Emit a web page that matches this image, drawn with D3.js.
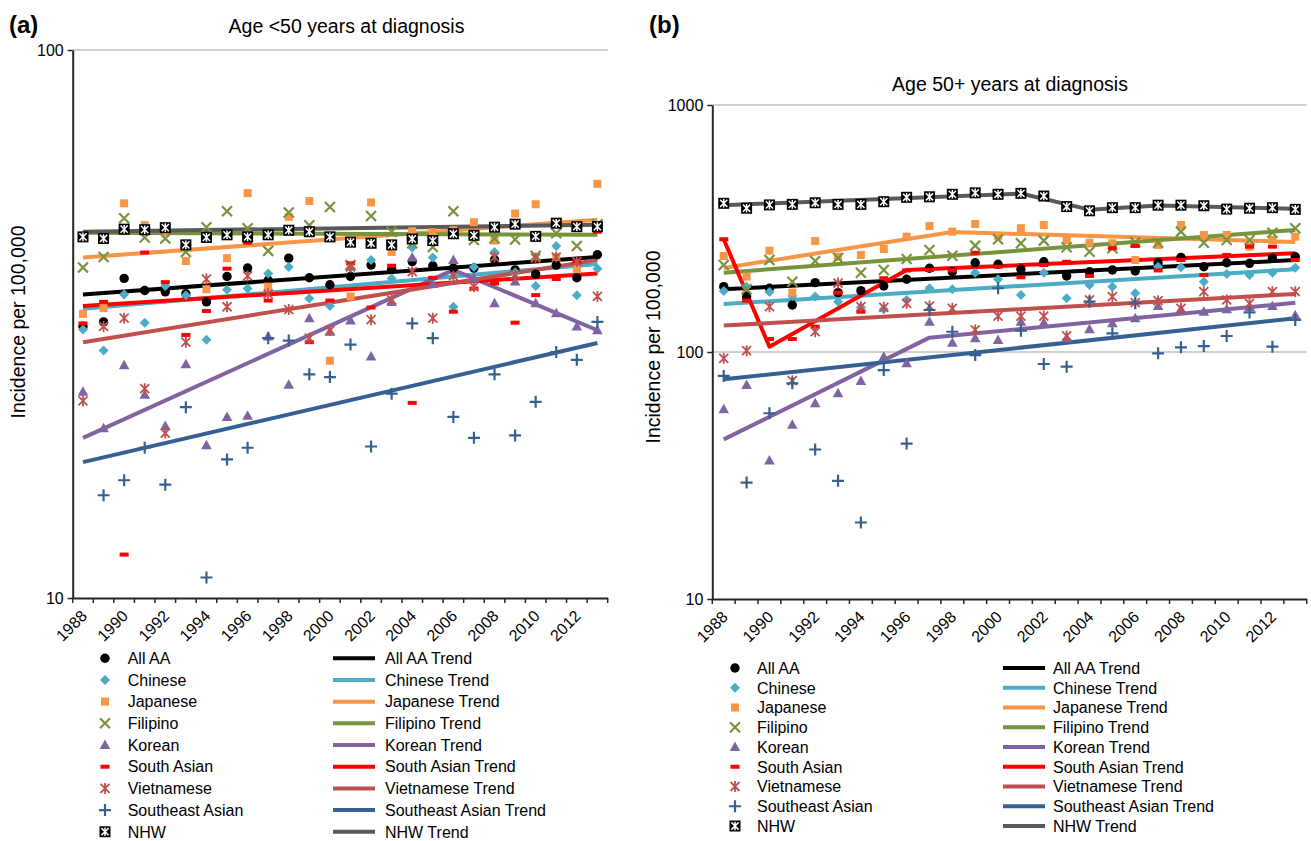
<!DOCTYPE html>
<html>
<head>
<meta charset="utf-8">
<script src="https://cdnjs.cloudflare.com/ajax/libs/d3/7.8.5/d3.min.js"></script>
<style>
body { margin: 0; background: #fff; }
text { font-family: "Liberation Sans", Arial, sans-serif; fill: #000; }
</style>
</head>
<body>
<script>
// categories
var years = [1988,1989,1990,1991,1992,1993,1994,1995,1996,1997,1998,1999,2000,
             2001,2002,2003,2004,2005,2006,2007,2008,2009,2010,2011,2012,2013];
var tickYears = [1988,1990,1992,1994,1996,1998,2000,2002,2004,2006,2008,2010,2012];
var groups = ["All AA","Chinese","Japanese","Filipino","Korean","South Asian","Vietnamese","Southeast Asian","NHW"];

// (a) age <50, incidence per 100,000
var aAllAA = [31.3,31.9,38.3,36.4,36.2,35.9,34.7,38.6,40.0,38.0,41.7,38.4,37.3,38.6,40.5,39.8,41.1,40.4,40.0,40.0,41.4,39.7,39.0,40.5,38.4,42.3];
var aChinese = [30.9,28.3,35.8,31.8,37.1,35.7,29.6,36.5,36.7,39.1,40.2,35.2,34.1,40.0,41.4,38.3,43.6,41.8,34.0,40.2,42.8,39.3,37.1,43.9,35.7,39.9];
var aJapanese = [33.0,33.8,52.5,47.9,46.5,41.2,36.6,41.7,54.8,37.0,49.6,53.0,27.1,35.5,52.7,42.8,46.7,46.5,46.9,48.5,44.9,50.3,52.3,41.9,39.8,57.0];
var aFilipino = [40.1,41.9,49.3,45.5,45.3,42.8,47.5,50.8,47.3,43.0,50.5,47.9,51.7,40.5,49.8,46.6,44.4,43.7,50.8,45.0,45.3,45.1,42.1,46.3,43.9,48.1];
var aKorean = [23.8,20.4,26.6,23.5,20.6,26.7,19.0,21.4,21.5,30.0,24.5,32.4,30.6,32.1,27.6,34.7,41.8,37.4,41.4,38.3,34.5,37.8,34.5,33.1,31.3,30.8];
var aSouthAsian = [31.7,34.7,12.0,42.7,37.7,30.2,33.4,39.9,44.5,34.9,47.5,29.3,34.9,40.8,33.9,40.4,22.7,38.4,33.3,36.7,37.5,31.8,35.7,38.2,41.0,46.6];
var aVietnamese = [22.9,31.3,32.4,24.1,20.0,29.3,38.2,34.0,38.7,35.9,33.6,29.8,30.8,40.2,32.2,35.0,39.4,32.4,38.7,37.0,41.9,38.9,41.7,41.9,41.1,35.5];
var aSoutheastAsian = [null,15.4,16.4,18.8,16.1,22.3,10.9,17.9,18.8,29.8,29.5,25.6,25.3,29.0,18.9,23.6,31.7,29.8,21.4,19.6,25.6,19.8,22.8,28.1,27.2,31.9];
var aNHW = [45.6,45.3,47.1,47.0,47.4,44.1,45.5,46.0,45.6,46.0,46.9,46.6,45.6,44.6,44.4,44.1,45.2,44.9,46.2,45.9,47.5,48.1,45.7,48.3,47.6,47.6];

// (a) trends: [year, value] at joinpoints
var aTrendAllAA = [[1988,35.8],[2013,41.9]];
var aTrendChinese = [[1988,33.7],[2013,40.7]];
var aTrendJapanese = [[1988,41.8],[2013,49.0]];
var aTrendFilipino = [[1988,46.4],[2013,46.0]];
var aTrendKorean = [[1988,19.6],[2006,39.7],[2013,30.8]];
var aTrendSouthAsian = [[1988,34.1],[2013,39.1]];
var aTrendVietnamese = [[1988,29.3],[2013,41.4]];
var aTrendSoutheastAsian = [[1988,17.7],[2013,29.2]];
var aTrendNHW = [[1988,46.6],[2013,48.0]];

// (b) age 50+
var bAllAA = [183.9,167.6,181.2,155.0,190.9,173.9,177.2,185.1,197.0,218.3,211.4,229.9,226.5,216.3,231.9,203.2,211.4,214.9,212.9,229.9,241.7,221.4,229.9,228.6,239.5,243.1];
var bChinese = [176.7,183.9,175.0,168.6,167.8,159.8,151.7,148.9,162.4,181.2,179.5,209.5,197.0,170.2,209.5,165.1,186.6,183.9,172.9,221.4,220.3,192.6,207.1,205.1,209.5,219.4];
var bJapanese = [244.7,201.9,257.1,173.9,281.4,243.1,247.0,261.2,293.1,323.8,307.1,329.9,295.0,317.0,326.9,284.2,277.1,275.6,235.7,271.3,326.9,297.8,297.8,267.0,284.2,293.1];
var bFilipino = [225.0,179.5,235.7,192.6,233.5,240.2,209.5,214.9,237.9,258.8,245.4,269.5,286.1,275.6,282.4,265.6,254.7,262.9,278.2,277.1,307.1,277.1,284.2,284.2,304.2,317.0];
var bKorean = [58.7,73.6,36.4,50.7,62.0,68.1,76.4,95.7,90.0,132.6,109.1,113.6,111.8,132.6,131.4,113.6,123.5,130.6,136.9,153.5,148.9,145.6,148.9,152.0,153.5,141.0];
var bSouthAsian = [286.1,161.4,112.9,112.9,126.6,173.9,145.6,198.9,213.9,214.9,213.9,252.3,221.4,200.7,225.0,231.9,203.2,262.9,268.7,213.9,235.7,205.1,247.0,267.0,267.0,235.7];
var bVietnamese = [94.3,101.2,152.5,76.5,120.8,190.1,152.5,151.7,157.5,153.4,150.3,122.8,139.8,139.8,139.8,116.1,162.4,167.6,158.3,161.4,150.3,175.5,162.4,157.5,175.5,175.5];
var bSoutheastAsian = [80.0,29.6,56.5,74.7,40.3,30.1,20.4,84.5,42.6,147.9,120.8,97.2,181.2,121.9,89.4,87.2,159.8,119.0,157.5,98.8,104.5,105.7,116.1,144.6,105.1,134.9];
var bNHW = [400,382,394,396,402,396,396,406,423,425,435,441,435,439,428,388,373,384,384,393,393,391,379,382,384,378];

var bTrendAllAA = [[1988,179.5],[2013,235.7]];
var bTrendChinese = [[1988,156.4],[2013,216.3]];
var bTrendJapanese = [[1988,219],[1998,306],[2013,279]];
var bTrendFilipino = [[1988,209.5],[2013,312]];
var bTrendKorean = [[1988,44.3],[1997,114.3],[2013,158.3]];
var bTrendSouthAsian = [[1988,286],[1990,105],[1996,215],[2013,251]];
var bTrendVietnamese = [[1988,127.9],[2013,171.8]];
var bTrendSoutheastAsian = [[1988,77.5],[2013,136.9]];
var bTrendNHW = [[1988,393],[2001,438],[2004,377],[2007,392],[2013,380]];

// marker style per group (same order as groups)
var colors = ["#000000","#4BACC6","#F79646","#77933C","#8064A2","#FF0000","#C0504D","#376092","#595959"];
var markers = ["circle","diamond","square","x","triangle","dash","star","plus","nhw"];

var svg = d3.select("body").append("svg")
    .attr("width", 1311)
    .attr("height", 841);

function drawMarker(g, type, color, cx, cy) {
    var m = g.append("g").attr("transform", "translate(" + cx + "," + cy + ")");
    if (type == "circle") {
        m.append("circle").attr("r", 4.7).attr("fill", color);
    } else if (type == "diamond") {
        m.append("path").attr("d", "M0,-5L5,0L0,5L-5,0Z").attr("fill", color);
    } else if (type == "square") {
        m.append("rect").attr("x", -4).attr("y", -4).attr("width", 8).attr("height", 8).attr("fill", color);
    } else if (type == "x") {
        m.append("path").attr("d", "M-5,-5L5,5M-5,5L5,-5")
            .attr("stroke", color).attr("stroke-width", 2.2).attr("fill", "none");
    } else if (type == "triangle") {
        m.append("path").attr("d", "M0,-5.5L5.3,4L-5.3,4Z").attr("fill", color);
    } else if (type == "dash") {
        m.append("rect").attr("x", -4.5).attr("y", -2).attr("width", 9).attr("height", 4).attr("fill", color);
    } else if (type == "star") {
        m.append("path").attr("d", "M-4.5,-4.5L4.5,4.5M-4.5,4.5L4.5,-4.5M0,-5.5L0,5.5")
            .attr("stroke", color).attr("stroke-width", 1.8).attr("fill", "none");
    } else if (type == "plus") {
        m.append("path").attr("d", "M-6,0L6,0M0,-6L0,6")
            .attr("stroke", color).attr("stroke-width", 2.2).attr("fill", "none");
    } else if (type == "nhw") {
        m.append("rect").attr("x", -5.5).attr("y", -5.5).attr("width", 11).attr("height", 11).attr("fill", "#000");
        m.append("path").attr("d", "M-3.6,-3.6L3.6,3.6M-3.6,3.6L3.6,-3.6M0,-4.3L0,4.3")
            .attr("stroke", "#fff").attr("stroke-width", 1.5).attr("fill", "none");
    }
}

function drawPanel(p) {
    var g = svg.append("g");

    var x = d3.scaleBand()
        .domain(years)
        .range([p.left, p.right]);
    var bw = x.bandwidth();

    var y = d3.scaleLog()
        .domain(p.yDomain)
        .range([p.bottom, p.top]);

    // gridlines
    g.selectAll("line.grid").data(p.grid).enter()
        .append("line")
        .attr("x1", p.left).attr("x2", p.right)
        .attr("y1", function(d) { return y(d); })
        .attr("y2", function(d) { return y(d); })
        .attr("stroke", "#C0C0C0")
        .attr("stroke-width", 1.3);

    // left axis
    var leftAxis = d3.axisLeft(y)
        .tickValues(p.yTicks)
        .tickSize(5)
        .tickSizeOuter(0)
        .tickPadding(4)
        .tickFormat(d3.format("d"));
    var ya = g.append("g")
        .attr("transform", "translate(" + p.left + ",0)")
        .call(leftAxis);
    ya.select(".domain").attr("stroke", "#262626").attr("stroke-width", 2);
    ya.selectAll(".tick line").attr("stroke", "#262626").attr("stroke-width", 1.5);
    ya.selectAll(".tick text")
        .attr("font-family", "Liberation Sans, Arial, sans-serif")
        .attr("font-size", "16px")
        .attr("fill", "#000");

    // bottom axis, labels every other year
    var bottomAxis = d3.axisBottom(x)
        .tickValues(tickYears)
        .tickSize(0)
        .tickSizeOuter(0);
    var xa = g.append("g")
        .attr("transform", "translate(0," + p.bottom + ")")
        .call(bottomAxis);
    xa.select(".domain").attr("stroke", "#262626").attr("stroke-width", 2);
    xa.selectAll(".tick text")
        .attr("x", 0).attr("y", 0).attr("dy", null)
        .attr("text-anchor", "end")
        .attr("transform", "translate(5,19) rotate(-45)")
        .attr("font-family", "Liberation Sans, Arial, sans-serif")
        .attr("font-size", "16px")
        .attr("fill", "#000");

    // tick marks between categories
    var edges = years.map(function(d) { return x(d); }).concat([p.right]);
    g.selectAll("line.xt").data(edges).enter()
        .append("line")
        .attr("x1", function(d) { return d; })
        .attr("x2", function(d) { return d; })
        .attr("y1", p.bottom)
        .attr("y2", p.bottom + 5)
        .attr("stroke", "#262626")
        .attr("stroke-width", 1.5);

    // trend lines
    var line = d3.line()
        .x(function(d) { return x(d[0]) + bw / 2; })
        .y(function(d) { return y(d[1]); });
    p.trends.forEach(function(t, i) {
        g.append("path")
            .attr("d", line(t))
            .attr("fill", "none")
            .attr("stroke", colors[i])
            .attr("stroke-width", 4)
            .attr("stroke-linejoin", "round");
    });

    // points
    p.series.forEach(function(vals, i) {
        vals.forEach(function(v, j) {
            if (v == null) return;
            drawMarker(g, markers[i], colors[i], x(years[j]) + bw / 2, y(v));
        });
    });

    // titles
    g.append("text")
        .attr("x", p.titleX).attr("y", p.titleY)
        .attr("text-anchor", "middle")
        .attr("font-size", "19.5px")
        .text(p.title);

    g.append("text")
        .attr("x", p.tagX).attr("y", 33)
        .attr("font-size", "24px")
        .attr("font-weight", "bold")
        .text(p.tag);

    g.append("text")
        .attr("transform", "translate(" + p.yLabelX + "," + p.yLabelY + ") rotate(-90)")
        .attr("text-anchor", "middle")
        .attr("dy", "0.35em")
        .attr("font-size", "19.5px")
        .text("Incidence per 100,000");

    // legend
    var lg = g.append("g");
    groups.forEach(function(name, i) {
        var ly = p.legend.y0 + i * p.legend.dy;
        drawMarker(lg, markers[i], colors[i], p.legend.mx, ly);
        lg.append("text")
            .attr("x", p.legend.tx).attr("y", ly)
            .attr("dy", "0.36em")
            .attr("font-size", "16px")
            .text(name);
        lg.append("line")
            .attr("x1", p.legend.lx1).attr("x2", p.legend.lx2)
            .attr("y1", ly).attr("y2", ly)
            .attr("stroke", colors[i])
            .attr("stroke-width", 4);
        lg.append("text")
            .attr("x", p.legend.ltx).attr("y", ly)
            .attr("dy", "0.36em")
            .attr("font-size", "16px")
            .text(name + " Trend");
    });
}

drawPanel({
    left: 72.7, right: 607.7, top: 50, bottom: 598,
    yDomain: [10, 100], yTicks: [10, 100], grid: [100],
    series: [aAllAA, aChinese, aJapanese, aFilipino, aKorean, aSouthAsian, aVietnamese, aSoutheastAsian, aNHW],
    trends: [aTrendAllAA, aTrendChinese, aTrendJapanese, aTrendFilipino, aTrendKorean, aTrendSouthAsian, aTrendVietnamese, aTrendSoutheastAsian, aTrendNHW],
    title: "Age <50 years at diagnosis", titleX: 346.5, titleY: 33,
    tag: "(a)", tagX: 9,
    yLabelX: 18, yLabelY: 322,
    legend: { y0: 658.3, dy: 21.68, mx: 105, tx: 127.7, lx1: 333, lx2: 375, ltx: 385 }
});

drawPanel({
    left: 712.3, right: 1306.7, top: 105, bottom: 599,
    yDomain: [10, 1000], yTicks: [10, 100, 1000], grid: [100, 1000],
    series: [bAllAA, bChinese, bJapanese, bFilipino, bKorean, bSouthAsian, bVietnamese, bSoutheastAsian, bNHW],
    trends: [bTrendAllAA, bTrendChinese, bTrendJapanese, bTrendFilipino, bTrendKorean, bTrendSouthAsian, bTrendVietnamese, bTrendSoutheastAsian, bTrendNHW],
    title: "Age 50+ years at diagnosis", titleX: 1010, titleY: 91,
    tag: "(b)", tagX: 649,
    yLabelX: 653, yLabelY: 347,
    legend: { y0: 668, dy: 19.75, mx: 735, tx: 757, lx1: 1003, lx2: 1045, ltx: 1053 }
});
</script>
</body>
</html>
